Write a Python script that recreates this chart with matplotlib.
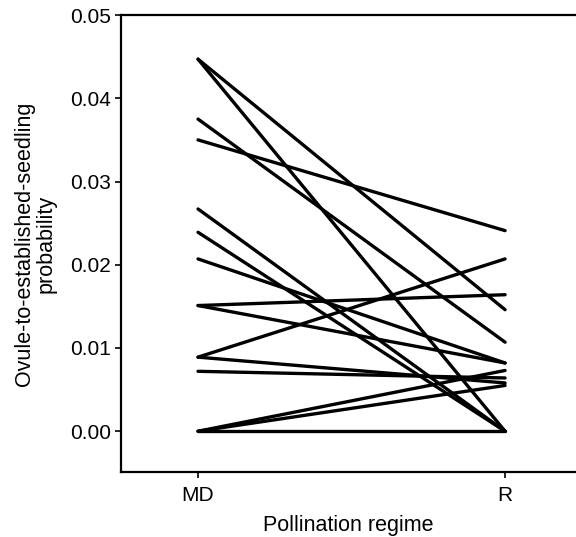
import matplotlib
matplotlib.use('Agg')
import matplotlib.pyplot as plt
from matplotlib.ticker import FormatStrFormatter

plt.rcParams['font.family'] = ['Liberation Sans', 'DejaVu Sans']

# pollination regimes and per-population probabilities (MD -> R)
regimes = ['MD', 'R']
md_values = [0.0447, 0.0447, 0.0375, 0.0350, 0.0267, 0.0239, 0.0207, 0.0151,
             0.0151, 0.0089, 0.0089, 0.0072, 0.0, 0.0, 0.0]
r_values = [0.0146, 0.0, 0.0107, 0.0241, 0.0, 0.0, 0.0082, 0.0164,
            0.0082, 0.0207, 0.0058, 0.0064, 0.0073, 0.0055, 0.0]
y_ticks = [0.00, 0.01, 0.02, 0.03, 0.04, 0.05]

fig = plt.figure(figsize=(5.76, 5.37), dpi=100)
ax = fig.add_axes([0.210, 0.121, 0.790, 0.851])

xpos = list(range(len(regimes)))
for a, b in zip(md_values, r_values):
    ax.plot(xpos, [a, b], color='black', lw=2.4, solid_capstyle='round')

ax.set_xlim(-0.251, 1.231)
ax.set_ylim(-0.0049, 0.05)
ax.set_xticks(xpos)
ax.set_xticklabels(regimes)
ax.set_yticks(y_ticks)
ax.yaxis.set_major_formatter(FormatStrFormatter('%.2f'))

for side in ['left', 'bottom', 'top']:
    ax.spines[side].set_linewidth(1.6)
ax.spines['right'].set_visible(False)
ax.tick_params(axis='both', direction='out', length=4, width=1.2,
               labelsize=15, pad=3)
ax.tick_params(axis='x', pad=6)

ax.set_xlabel('Pollination regime', fontsize=15.5, labelpad=7)
ax.set_ylabel('Ovule-to-established-seedling\nprobability', fontsize=15.5,
              linespacing=1.0, labelpad=10)

fig.savefig('out.png', dpi=100)
